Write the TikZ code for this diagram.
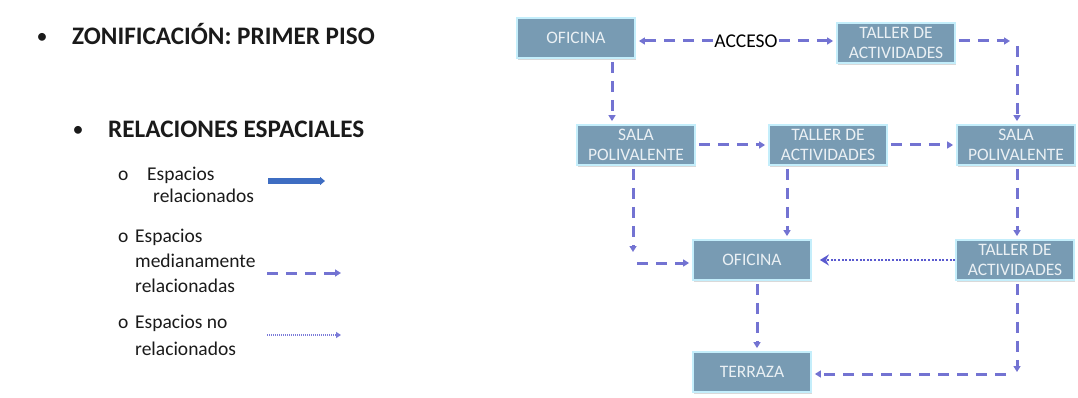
\documentclass[tikz,border=0pt]{standalone}
\usepackage{fontspec}
\setmainfont{Carlito}
\usetikzlibrary{arrows.meta,shadows}
\definecolor{boxfill}{HTML}{789BB3}
\definecolor{boxedge}{HTML}{C4EEFB}
\definecolor{arrcol}{HTML}{7373D2}
\definecolor{dotcol}{HTML}{5A5ACF}
\definecolor{solidcol}{HTML}{3E6DC2}
\definecolor{boxtext}{HTML}{EAF0F4}
\definecolor{txt}{HTML}{1A1A1A}
\tikzset{
 room/.style={draw=boxedge, line width=1.8pt, fill=boxfill, minimum width=118pt, minimum height=40pt,
   inner sep=0pt, align=center, text=boxtext, font=\fontsize{17.5}{19.5}\selectfont,
   drop shadow={shadow xshift=1pt, shadow yshift=-2pt, opacity=0.3}},
 medium/.style={draw=arrcol, line width=3pt, dash pattern=on 11pt off 8pt,
   -{Triangle[length=6pt,width=7pt]}, shorten <=3pt, shorten >=3pt},
 weak/.style={draw=dotcol, line width=2.5pt, dash pattern=on 2pt off 1.6pt,
   -{Stealth[length=9pt,width=11pt]}},
 strong/.style={draw=solidcol, line width=5.5pt, -{Triangle[length=5pt,width=8pt]}},
 head/.style={anchor=base west, inner sep=0pt, text=txt, font=\fontsize{25.2}{27}\selectfont\bfseries},
 bul/.style={inner sep=0pt, text=txt, font=\fontsize{22}{24}\selectfont},
 leg/.style={anchor=base west, inner sep=0pt, text=txt, font=\fontsize{19.5}{22}\selectfont},
 lbl/.style={inner sep=1pt, text=black, font=\fontsize{19.5}{22}\selectfont},
}
\begin{document}
\begin{tikzpicture}[x=1pt,y=-1pt]
\useasboundingbox (0,0) rectangle (1078,398);
% left text
\node[bul] (b1) at (42,38) {\textbullet};
\node[head] (h1) at (72,45) {ZONIFICACIÓN: PRIMER PISO};
\node[bul] (b2) at (78,131) {\textbullet};
\node[head] (h2) at (108,138) {RELACIONES ESPACIALES};
\node[leg] (m1) at (118,181) {o};
\node[leg] (l1a) at (147,181) {Espacios};
\node[leg] (l1b) at (153,203) {relacionados};
\node[leg] (m2) at (118,242) {o};
\node[leg] (l2a) at (135,242) {Espacios};
\node[leg] (l2b) at (135,267) {medianamente};
\node[leg] (l2c) at (135,292) {relacionadas};
\node[leg] (m3) at (118,328) {o};
\node[leg] (l3a) at (135,328) {Espacios no};
\node[leg] (l3b) at (135,355) {relacionados};
\coordinate (ls1) at (268,181); \coordinate (le1) at (325,181);
\draw[strong] (ls1) -- (le1);
\coordinate (ls2) at (267,273); \coordinate (le2) at (341,273);
\draw[medium, shorten <=0pt, shorten >=0pt] (ls2) -- (le2);
\coordinate (ls3) at (267,335); \coordinate (le3) at (341,335);
\draw[draw=dotcol!80, line width=1.3pt, dash pattern=on 1.2pt off 0.8pt, -{Triangle[length=5pt,width=6pt]}] (ls3) -- (le3);
% rooms
\node[room] (o1) at (576,38) {OFICINA};
\node[room] (t1) at (896,43) {TALLER DE\\ACTIVIDADES};
\node[room] (s1) at (636,145) {SALA\\POLIVALENTE};
\node[room] (t2) at (828,145) {TALLER DE\\ACTIVIDADES};
\node[room] (s2) at (1016,145) {SALA\\POLIVALENTE};
\node[room] (o2) at (752,260) {OFICINA};
\node[room] (t3) at (1015,260) {TALLER DE\\ACTIVIDADES};
\node[room] (ter) at (752,372) {TERRAZA};
% connectors
\node[lbl] (acc) at (746,41) {ACCESO};
\draw[medium, shorten <=0pt] (acc.west) -- (o1.east |- acc.west);
\draw[medium, shorten <=0pt] (acc.east) -- (t1.west |- acc.east);
\coordinate (c1) at (1010,41);
\draw[medium, shorten >=0pt] (t1.east |- c1) -- (c1);
\coordinate (c2) at (1017,46);
\draw[medium, shorten <=0pt] (c2) -- (s2.north -| c2);
\draw[medium] ([xshift=36pt]o1.south) -- ([xshift=-24pt]s1.north);
\draw[medium] (s1.east) -- (t2.west);
\draw[medium] (t2.east) -- (s2.west);
\coordinate (c3) at (633,252);
\draw[medium, shorten >=0pt] (s1.south -| c3) -- (c3);
\coordinate (c4) at (637,263);
\draw[medium, shorten <=0pt] (c4) -- (o2.west |- c4);
\draw[medium] ([xshift=-41pt]t2.south) -- ([xshift=35pt]o2.north);
\draw[medium] ([xshift=1pt]s2.south) -- ([xshift=2pt]t3.north);
\draw[weak, shorten <=0pt, shorten >=8pt] (t3.west) -- (o2.east);
\draw[medium] ([xshift=5pt]o2.south) -- ([xshift=5pt]ter.north);
\coordinate (c5) at (1017,372);
\draw[medium, shorten >=0pt] ([xshift=2pt]t3.south) -- (c5);
\coordinate (c6) at (1006,374);
\draw[medium, shorten <=0pt] (c6) -- (ter.east |- c6);
\end{tikzpicture}
\end{document}
